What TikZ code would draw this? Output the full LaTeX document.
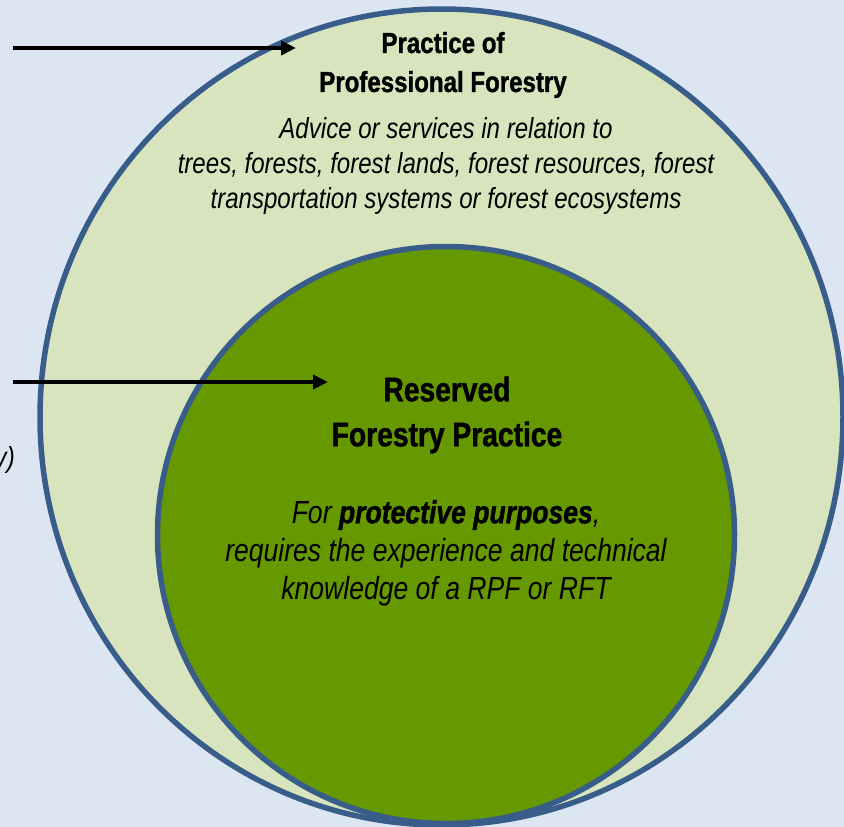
\documentclass[tikz,border=0pt]{standalone}
\usepackage{fontspec}
\setmainfont{Liberation Sans}[FakeStretch=0.83,
  BoldFeatures={FakeBold=1.2},BoldItalicFeatures={FakeBold=1.2}]
\usepackage{xcolor}
\usetikzlibrary{arrows.meta}
\definecolor{bgBlue}{HTML}{DCE6F2}
\definecolor{paleGreen}{HTML}{D7E4BD}
\definecolor{deepGreen}{HTML}{669900}
\definecolor{ringBlue}{HTML}{385D8A}

\begin{document}
\begin{tikzpicture}[x=1pt,y=-1pt,
    ring/.style={draw=ringBlue,line width=5.5pt},
    pointer/.style={line width=4pt,-{Triangle[length=15pt,width=14pt]}},
    outerText/.style={align=center,font=\fontsize{29}{35}\selectfont},
    innerText/.style={align=center,font=\fontsize{32}{38}\selectfont}]
        \fill[bgBlue] (0,0) rectangle (844,827);
        \useasboundingbox (0,0) rectangle (844,827);
        \draw[ring,fill=paleGreen] (441.5,417) ellipse [x radius=401.5pt, y radius=408pt];
        \draw[ring,fill=deepGreen] (446,535) circle [radius=288.5pt];
        % outer circle texts
        \node[outerText,font=\fontsize{29}{39}\selectfont\bfseries] (proTitle) at (443,65) {Practice of\\Professional Forestry};
        \node[outerText,font=\fontsize{29}{35}\selectfont\itshape] (proDesc) at (446,166) {Advice or services in relation to\\trees, forests, forest lands, forest resources, forest\\transportation systems or forest ecosystems};
        % inner circle texts
        \node[innerText,font=\fontsize{34}{45}\selectfont\bfseries] (resTitle) at (447,415) {Reserved\\Forestry Practice};
        \node[innerText,font=\fontsize{32}{38}\selectfont\itshape] (resDesc) at (446,553) {For \textbf{protective purposes},\\requires the experience and technical\\knowledge of a RPF or RFT};
        \node[outerText,font=\fontsize{29}{35}\selectfont\itshape,anchor=east,inner sep=0pt] (cutLabel) at (15,460) {y)};
        % arrows from the left
        \coordinate (proSrc) at (13,48);
        \coordinate (proTip) at (296,48);
        \coordinate (resSrc) at (13,382);
        \coordinate (resTip) at (328,382);
        \draw[pointer] (proSrc) -- (proTip);
        \draw[pointer] (resSrc) -- (resTip);
      \end{tikzpicture}
\end{document}
